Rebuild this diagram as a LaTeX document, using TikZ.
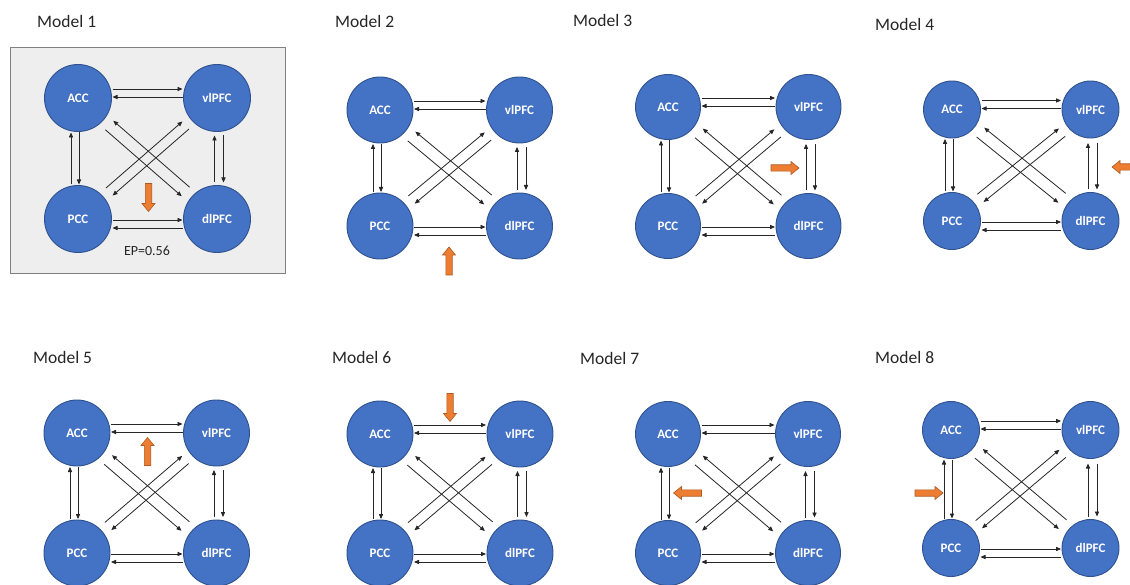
\documentclass[tikz,border=0pt]{standalone}
\usepackage{fontspec}
\setmainfont{Carlito}
\usetikzlibrary{calc,arrows.meta}
\definecolor{nodeblue}{HTML}{4472C4}
\definecolor{nodeedge}{HTML}{2F528F}
\definecolor{orfill}{HTML}{ED7D31}
\definecolor{oredge}{HTML}{AE5A21}
\definecolor{boxfill}{HTML}{EEEEEE}
\definecolor{boxedge}{HTML}{7F7F7F}
\definecolor{textgray}{HTML}{262626}
\tikzset{
 region/.style={circle, fill=nodeblue, draw=nodeedge, line width=0.9pt, text=white,
   font=\fontsize{13}{14}\selectfont\bfseries, inner sep=0pt},
 link/.style={draw=black!85, line width=0.8pt, -{Triangle[length=5pt,width=4.2pt]}},
 title/.style={anchor=base west, font=\fontsize{17.5}{20}\selectfont, text=textgray, inner sep=0pt},
 blockarr/.style={fill=orfill, draw=oredge, line width=0.6pt},
 eplabel/.style={font=\fontsize{14}{16}\selectfont, text=textgray, inner sep=0pt},
}
\newcommand\conn[5]{\draw[link] ($(#1)!#3!(#2)!#5!90:(#2)$) -- ($(#2)!#4!(#1)!#5!-90:(#1)$);}
\newcommand\panel[7]{%
 \pgfmathsetmacro\sh{#6+1}%
 \pgfmathsetmacro\sd{#6+8}%
 \pgfmathsetmacro\svb{#6+3}%
 \node[region, minimum size={2*#6pt}] (#1a) at (#2,#3) {ACC};
 \node[region, minimum size={2*#6pt}] (#1v) at ({#2+#4},#3) {vlPFC};
 \node[region, minimum size={2*#6pt}] (#1p) at (#2,{#3+#5}) {PCC};
 \node[region, minimum size={2*#6pt}] (#1d) at ({#2+#4},{#3+#5}) {dlPFC};
 \conn{#1a}{#1v}{\sh pt}{\sh pt}{9pt}
 \conn{#1v}{#1a}{\sh pt}{\sh pt}{-1pt}
 \conn{#1p}{#1d}{\sh pt}{\sh pt}{-1pt}
 \conn{#1d}{#1p}{\sh pt}{\sh pt}{9pt}
 \conn{#1p}{#1a}{\sh pt}{\sh pt}{7pt}
 \conn{#1a}{#1p}{\sh pt}{\sh pt}{1pt}
 \conn{#1d}{#1v}{\svb pt}{#7pt}{2.5pt}
 \conn{#1v}{#1d}{#7pt}{\svb pt}{6.5pt}
 \conn{#1a}{#1d}{\sd pt}{\sd pt}{-6pt}
 \conn{#1d}{#1a}{\sd pt}{\sd pt}{-6pt}
 \conn{#1p}{#1v}{\sd pt}{\sd pt}{5pt}
 \conn{#1v}{#1p}{\sd pt}{\sd pt}{5pt}
}
\newcommand\blockarrow[4]{%
 \coordinate (#1) at (#2,#3);
 \filldraw[blockarr, shift={(#2,#3)}, rotate=#4]
   (-14,-3.2) -- (6,-3.2) -- (6,-6.5) -- (14,0) -- (6,6.5) -- (6,3.2) -- (-14,3.2) -- cycle;
}
\begin{document}
\begin{tikzpicture}[x=1pt, y=-1pt]
\useasboundingbox (0,0) rectangle (1130,585);
\clip (0,0) rectangle (1130,585);
\fill[white] (0,0) rectangle (1130,585);
\filldraw[fill=boxfill, draw=boxedge, line width=0.8pt] (10,47) rectangle (285,273);

\node[title] (t1) at (37,28) {Model 1};
\node[title] (t2) at (335,28) {Model 2};
\node[title] (t3) at (573,27) {Model 3};
\node[title] (t4) at (875,31) {Model 4};
\node[title] (t5) at (33,363) {Model 5};
\node[title] (t6) at (332,363) {Model 6};
\node[title] (t7) at (580,364) {Model 7};
\node[title] (t8) at (875,363) {Model 8};

\panel{m1}{78}{98}{139}{121}{33.5}{37.5}
\panel{m2}{380}{110}{139.5}{116}{33}{37}
\panel{m3}{668}{107}{140.5}{119}{32.5}{37}
\panel{m4}{952}{109.5}{138.5}{111.5}{28.5}{33.5}
\panel{m5}{77}{433}{139.5}{120}{33}{37}
\panel{m6}{380}{434}{140}{119}{33}{37}
\panel{m7}{668}{434}{140}{119}{32.5}{37}
\panel{m8}{951}{430}{139.5}{118}{28.5}{33.5}

\node[eplabel] (ep) at (147,251) {EP=0.56};

\blockarrow{o1}{148.5}{197.5}{-90}
\blockarrow{o2}{449}{261}{90}
\blockarrow{o3}{785}{168}{0}
\blockarrow{o4}{1126}{167}{180}
\blockarrow{o5}{147.5}{451.5}{90}
\blockarrow{o6}{450}{407.5}{-90}
\blockarrow{o7}{687.5}{493}{180}
\blockarrow{o8}{929}{493}{0}
\end{tikzpicture}
\end{document}
